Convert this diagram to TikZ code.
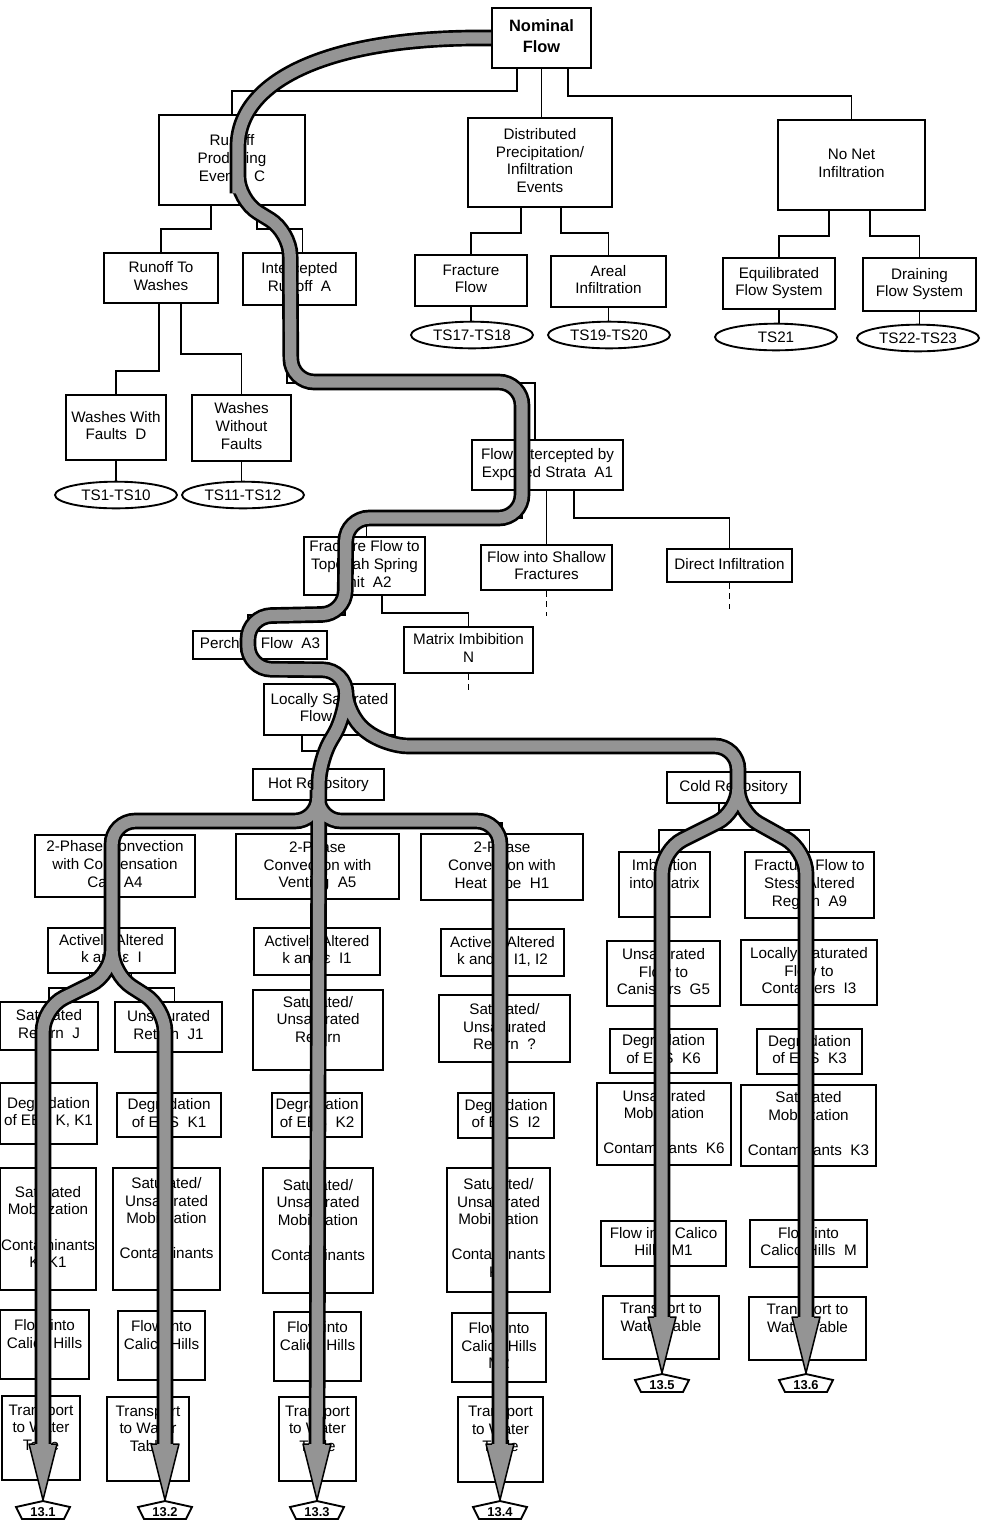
\documentclass[tikz,border=0pt]{standalone}
\usepackage{fontspec}
\setmainfont{Liberation Sans}
\usetikzlibrary{shapes.geometric}
\newcommand{\boxlines}[1]{\begin{tabular}{@{}c@{}}#1\end{tabular}}

\begin{document}
\begin{tikzpicture}[x=0.03cm, y=-0.03cm,
  box/.style={draw, line width=1.6pt, inner sep=0pt, font=\fontsize{13}{15}\selectfont},
  wh/.style 2 args={minimum width=#1*0.03cm, minimum height=#2*0.03cm},
  tsnode/.style={draw, ellipse, line width=1.6pt, inner sep=0pt, minimum width=3.66cm, minimum height=0.8cm, font=\fontsize{13}{15}\selectfont},
  link/.style={line width=1.6pt},
  stub/.style={line width=1.6pt, dash pattern=on 5pt off 4pt},
  band/.style={line width=0.34cm, draw=black!42, rounded corners=0.7cm, preaction={draw=black, line width=0.5cm}},
  tip/.style={fill=black!42, draw=black, line width=1.3pt, line join=round},
  tag/.style={inner sep=0pt, font=\fontsize{11}{13}\selectfont\bfseries}]
\useasboundingbox (0,0) rectangle (981,1526);

% top levels
\node [box, wh={99}{60}, font=\fontsize{14}{18}\selectfont\bfseries] (nominal) at (541.5,38) {\boxlines{Nominal\\Flow}};
\node [box, wh={146}{90}] (runoff) at (232,160) {\boxlines{Runoff\\Producing\\Events~~C}};
\node [box, wh={144}{89}] (distrib) at (540,162.5) {\boxlines{Distributed\\Precipitation/\\Infiltration\\Events}};
\node [box, wh={147}{90}] (nonet) at (851.5,165) {\boxlines{No Net\\Infiltration}};

\node [box, wh={114}{50}] (towashes) at (161,278) {\boxlines{Runoff To\\Washes}};
\node [box, wh={113}{52}] (intercepted) at (299.5,279) {\boxlines{Intercepted\\Runoff~~A}};
\node [box, wh={112}{51}] (fracflow) at (471,280.5) {\boxlines{Fracture\\Flow}};
\node [box, wh={115}{51}] (areal) at (608.5,281.5) {\boxlines{Areal\\Infiltration}};
\node [box, wh={112}{51}] (equil) at (779,283.5) {\boxlines{Equilibrated\\Flow System}};
\node [box, wh={113}{53}] (drain) at (919.5,284.5) {\boxlines{Draining\\Flow System}};

\node [tsnode] (ts1718) at (472,335) {TS17-TS18};
\node [tsnode] (ts1920) at (609,335) {TS19-TS20};
\node [tsnode] (ts21) at (776,337) {TS21};
\node [tsnode] (ts2223) at (918,338) {TS22-TS23};

\node [box, wh={100}{65}] (withf) at (116,427.5) {\boxlines{Washes With\\Faults~~D}};
\node [box, wh={99}{66}] (withoutf) at (241.5,428) {\boxlines{Washes\\Without\\Faults}};
\node [tsnode] (ts110) at (116,495) {TS1-TS10};
\node [tsnode] (ts1112) at (243,495) {TS11-TS12};

% strata
\node [box, wh={151}{50}] (a1) at (547.5,465) {\boxlines{Flow Intercepted by\\Exposed Strata~~A1}};
\node [box, wh={121}{58}] (a2) at (364.5,566) {\boxlines{Fracture Flow to\\Topopah Spring\\Unit~~A2}};
\node [box, wh={131}{45}] (shallow) at (546.5,567.5) {\boxlines{Flow into Shallow\\Fractures}};
\node [box, wh={125}{33}] (direct) at (729.5,565.5) {\boxlines{Direct Infiltration}};
\node [box, wh={134}{28}] (perched) at (260,645) {\boxlines{Perched Flow~~A3}};
\node [box, wh={129}{46}] (matrix) at (468.5,650) {\boxlines{Matrix Imbibition\\N}};
\node [box, wh={131}{51}] (locsat) at (329.5,709.5) {\boxlines{Locally Saturated\\Flow~~A3}};
\node [box, wh={131}{31}] (hot) at (318.5,784.5) {\boxlines{Hot Repository}};
\node [box, wh={133}{31}] (cold) at (733.5,787.5) {\boxlines{Cold Repository}};

% hot repository
\node [box, wh={160}{62}] (a4) at (115,866) {\boxlines{2-Phase Convection\\with Condensation\\Cap~~A4}};
\node [box, wh={163}{65}] (a5) at (317.5,866.5) {\boxlines{2-Phase\\Convection with\\Venting~~A5}};
\node [box, wh={162}{66}] (h1) at (502,867) {\boxlines{2-Phase\\Convection with\\Heat Pipe~~H1}};

\node [box, wh={127}{45}] (actI) at (111.5,950.5) {\boxlines{Actively Altered\\k and ε~~I}};
\node [box, wh={98}{48}] (satJ) at (49,1026) {\boxlines{Saturated\\Return~~J}};
\node [box, wh={107}{50}] (unsJ1) at (168.5,1027) {\boxlines{Unsaturated\\Return~~J1}};
\node [box, wh={97}{61}] (degK) at (48.5,1113.5) {\boxlines{Degradation\\of EBS K, K1}};
\node [box, wh={104}{44}] (degK1) at (169,1115) {\boxlines{Degradation\\of EBS~~K1}};
\node [box, wh={96}{122}] (mobK) at (48,1229) {\boxlines{Saturated\\Mobilization\\~\\Contaminants\\K, K1}};
\node [box, wh={107}{122}] (mobSUa) at (166.5,1229) {\boxlines{Saturated/\\Unsaturated\\Mobilization\\~\\Contaminants\\~}};
\node [box, wh={89}{69}] (calicoA) at (44.5,1344.5) {\boxlines{Flow into\\Calico Hills\\~}};
\node [box, wh={87}{69}] (calicoB) at (161.5,1345.5) {\boxlines{Flow into\\Calico Hills\\~}};
\node [box, wh={78}{84}] (transA) at (41,1438) {\boxlines{Transport\\to Water\\Table\\~}};
\node [box, wh={82}{84}] (transB) at (148,1439) {\boxlines{Transport\\to Water\\Table\\~}};

\node [box, wh={126}{47}] (actI1) at (317,951.5) {\boxlines{Actively Altered\\k and ε~~I1}};
\node [box, wh={130}{80}] (retSU) at (318,1030) {\boxlines{Saturated/\\Unsaturated\\Return\\~}};
\node [box, wh={90}{44}] (degK2) at (317,1115) {\boxlines{Degradation\\of EBS~~K2}};
\node [box, wh={110}{125}] (mobSUb) at (318,1230.5) {\boxlines{Saturated/\\Unsaturated\\Mobilization\\~\\Contaminants\\~}};
\node [box, wh={87}{69}] (calicoC) at (317.5,1346.5) {\boxlines{Flow into\\Calico Hills\\~}};
\node [box, wh={77}{84}] (transC) at (317.5,1439) {\boxlines{Transport\\to Water\\Table\\~}};

\node [box, wh={123}{47}] (actI12) at (502.5,952.5) {\boxlines{Actively Altered\\k and ε~~I1, I2}};
\node [box, wh={131}{67}] (retQ) at (504.5,1028.5) {\boxlines{Saturated/\\Unsaturated\\Return~~?}};
\node [box, wh={96}{45}] (degI2) at (506,1115.5) {\boxlines{Degradation\\of EBS~~I2}};
\node [box, wh={103}{124}] (mobK2) at (498.5,1230) {\boxlines{Saturated/\\Unsaturated\\Mobilization\\~\\Contaminants\\K2}};
\node [box, wh={94}{69}] (calicoM2) at (499,1347.5) {\boxlines{Flow into\\Calico Hills\\M2}};
\node [box, wh={85}{85}] (transD) at (500.5,1439.5) {\boxlines{Transport\\to Water\\Table\\~}};

% cold repository
\node [box, wh={91}{65}] (imbib) at (664.5,884.5) {\boxlines{Imbibition\\into Matrix\\~}};
\node [box, wh={129}{66}] (a9) at (809.5,885) {\boxlines{Fracture Flow to\\Stess Altered\\Region~~A9}};
\node [box, wh={113}{65}] (canist) at (663.5,973.5) {\boxlines{Unsaturated\\Flow to\\Canisters~~G5}};
\node [box, wh={136}{65}] (contI3) at (809,972.5) {\boxlines{Locally Saturated\\Flow to\\Containers~~I3}};
\node [box, wh={107}{44}] (degK6) at (663.5,1051) {\boxlines{Degradation\\of EBS~~K6}};
\node [box, wh={105}{45}] (degK3) at (809.5,1051.5) {\boxlines{Degradation\\of EBS~~K3}};
\node [box, wh={134}{82}] (mobK6) at (664,1124) {\boxlines{Unsaturated\\Mobilization\\~\\Contaminants~~K6}};
\node [box, wh={135}{81}] (mobK3) at (808.5,1125.5) {\boxlines{Saturated\\Mobilization\\~\\Contaminants~~K3}};
\node [box, wh={125}{45}] (calicoM1) at (663.5,1243.5) {\boxlines{Flow into Calico\\Hills~~M1}};
\node [box, wh={117}{47}] (calicoM) at (808.5,1243.5) {\boxlines{Flow into\\Calico Hills~~M}};
\node [box, wh={116}{63}] (transE) at (661,1327.5) {\boxlines{Transport to\\Water Table\\~}};
\node [box, wh={117}{63}] (transF) at (807.5,1328.5) {\boxlines{Transport to\\Water Table\\~}};

% tree lines
\draw [link] ([shift={(-24.5,0)}]nominal.south) -- ++(0,22) -| (runoff.north);
\draw [link] (nominal.south) -- (nominal.south |- distrib.north);
\draw [link] ([shift={(26.5,0)}]nominal.south) -- ++(0,27) -| (nonet.north);
\draw [link] ([shift={(-21,0)}]runoff.south) -- ++(0,23) -| (towashes.north);
\draw [link] ([shift={(25,0)}]runoff.south) -- ++(0,23) -| ([shift={(3,0)}]intercepted.north);
\draw [link] ([shift={(-19,0)}]distrib.south) -- ++(0,25) -| (fracflow.north);
\draw [link] ([shift={(21,0)}]distrib.south) -- ++(0,25) -| (areal.north);
\draw [link] ([shift={(-22.5,0)}]nonet.south) -- ++(0,25) -| (equil.north);
\draw [link] ([shift={(18.5,0)}]nonet.south) -- ++(0,25) -| (drain.north);
\draw [link] (fracflow.south) -- (fracflow.south |- ts1718.north);
\draw [link] (areal.south) -- (areal.south |- ts1920.north);
\draw [link] (equil.south) -- (equil.south |- ts21.north);
\draw [link] (drain.south) -- (drain.south |- ts2223.north);
\draw [link] ([shift={(-2,0)}]towashes.south) -- ++(0,67) -| (withf.north);
\draw [link] ([shift={(20,0)}]towashes.south) -- ++(0,50) -| (withoutf.north);
\draw [link] (withf.south) -- (withf.south |- ts110.north);
\draw [link] (withoutf.south) -- (withoutf.south |- ts1112.north);
\draw [link] ([shift={(-12.5,0)}]intercepted.south) -- ++(0,77) -| ([shift={(-12.5,0)}]a1.north);
\draw [link] ([shift={(-25.5,0)}]a1.south) -- ++(0,27) -| ([shift={(2,0)}]a2.north);
\draw [link] (a1.south -| shallow.north) -- (shallow.north);
\draw [link] ([shift={(26.5,0)}]a1.south) -- ++(0,27) -| (direct.north);
\draw [link] ([shift={(17.5,0)}]a2.south) -- ++(0,17) -| (matrix.north);
\draw [link] ([shift={(-19.5,0)}]a2.south) -- ++(0,19) -| ([shift={(-12,0)}]perched.north);
\draw [stub] (shallow.south) -- ++(0,25);
\draw [stub] (direct.south) -- ++(0,26);
\draw [stub] (matrix.south) -- ++(0,19);
\draw [link] ([shift={(-27.5,0)}]locsat.south) -- ++(0,15) -| (hot.north);
\draw [link] (hot.south) -- ++(0,22) -| (a4.north);
\draw [link] (hot.south) -- (hot.south |- a5.north);
\draw [link] (hot.south) -- ++(0,22) -| (h1.north);
\draw [link] (a4.south) -- (a4.south |- actI.north);
\draw [link] ([shift={(-22,0)}]actI.south) -- ++(0,14) -| (satJ.north);
\draw [link] ([shift={(20,0)}]actI.south) -- ++(0,14) -| ([shift={(6,0)}]unsJ1.north);
\draw [link] ([shift={(-14.5,0)}]cold.south) -- ++(0,26) -| ([shift={(-5.5,0)}]imbib.north);
\draw [link] ([shift={(-14.5,0)}]cold.south) -- ++(0,26) -| (a9.north);

% flow path
\draw [band] (nominal.west) .. controls (330,36) and (238,80) .. (238,170) -- (238,200) -- (290,232) -- (291,382) -- (522,382) -- (522,518) -- (346,518) -- (345,614) -- (248,616) -- (248,669) -- (346,670) -- (346,700)
  (346,690) -- (346,715) -- (319,760) -- (317,1444)
  (346,690) -- (346,715) -- (385,746) -- (738,746) -- (738,812) -- (662,850) -- (662,1317)
  (738,782) -- (738,812) -- (806,850) -- (806,1317)
  (318,790) -- (318,821) -- (112,821) -- (112,974) -- (43,1008) -- (43,1444)
  (112,944) -- (112,974) -- (165,1008) -- (165,1444)
  (318,790) -- (318,821) -- (500,821) -- (500,1444);

\node [tag] (t131) at (43,1512) {13.1};
\node [tag] (t132) at (165,1512) {13.2};
\node [tag] (t133) at (317,1512) {13.3};
\node [tag] (t134) at (500,1512) {13.4};
\node [tag] (t135) at (662,1385) {13.5};
\node [tag] (t136) at (806,1385) {13.6};

\filldraw [tip] (t131.center) ++(-8,-68) -- ++(-6,0) -- ++(14,56) -- ++(14,-56) -- ++(-6,0);
\filldraw [tip] (t132.center) ++(-8,-68) -- ++(-6,0) -- ++(14,56) -- ++(14,-56) -- ++(-6,0);
\filldraw [tip] (t133.center) ++(-8,-68) -- ++(-6,0) -- ++(14,56) -- ++(14,-56) -- ++(-6,0);
\filldraw [tip] (t134.center) ++(-8,-68) -- ++(-6,0) -- ++(14,56) -- ++(14,-56) -- ++(-6,0);
\filldraw [tip] (t135.center) ++(-8,-68) -- ++(-6,0) -- ++(14,56) -- ++(14,-56) -- ++(-6,0);
\filldraw [tip] (t136.center) ++(-8,-68) -- ++(-6,0) -- ++(14,56) -- ++(14,-56) -- ++(-6,0);

\draw [link] (t131.center) ++(-27,-5) -- ++(27,-6) -- ++(27,6) -- ++(-6,12) -- ++(-42,0) -- cycle;
\draw [link] (t132.center) ++(-27,-5) -- ++(27,-6) -- ++(27,6) -- ++(-6,12) -- ++(-42,0) -- cycle;
\draw [link] (t133.center) ++(-27,-5) -- ++(27,-6) -- ++(27,6) -- ++(-6,12) -- ++(-42,0) -- cycle;
\draw [link] (t134.center) ++(-27,-5) -- ++(27,-6) -- ++(27,6) -- ++(-6,12) -- ++(-42,0) -- cycle;
\draw [link] (t135.center) ++(-27,-5) -- ++(27,-6) -- ++(27,6) -- ++(-6,12) -- ++(-42,0) -- cycle;
\draw [link] (t136.center) ++(-27,-5) -- ++(27,-6) -- ++(27,6) -- ++(-6,12) -- ++(-42,0) -- cycle;

\end{tikzpicture}
\end{document}
